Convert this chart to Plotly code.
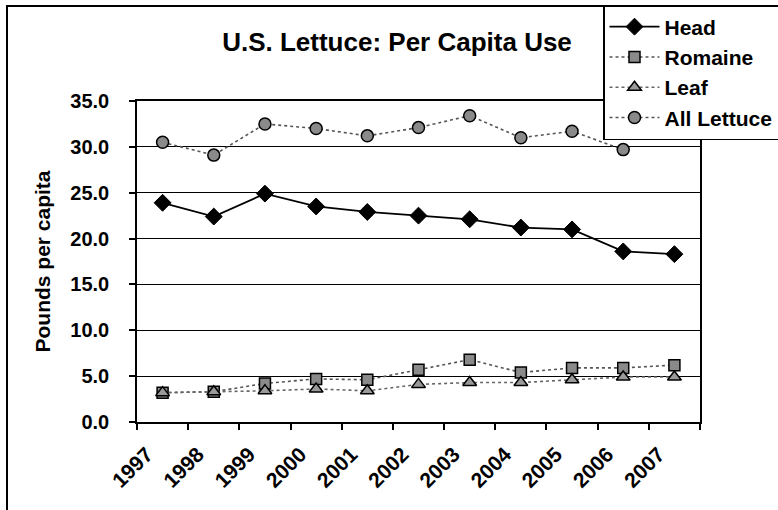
import plotly.graph_objects as go

# Per capita lettuce use, pounds
years = ["1997", "1998", "1999", "2000", "2001", "2002",
         "2003", "2004", "2005", "2006", "2007"]
head = [23.9, 22.4, 24.9, 23.5, 22.9, 22.5, 22.1, 21.2, 21.0, 18.6, 18.3]
romaine = [3.2, 3.3, 4.2, 4.7, 4.6, 5.7, 6.8, 5.4, 5.9, 5.9, 6.2]
leaf = [3.2, 3.3, 3.4, 3.6, 3.4, 4.1, 4.3, 4.3, 4.6, 4.9, 4.9]
all_lettuce = [30.5, 29.1, 32.5, 32.0, 31.2, 32.1, 33.4, 31.0, 31.7, 29.7, None]

FONT = "Arial, Liberation Sans, sans-serif"
W, H = 778, 510
L, R, T, B = 137, 78, 101, 88
PW, PH = W - L - R, H - T - B

# category centres on a numeric axis; year boundaries fall on integers
xc = [i + 0.5 for i in range(len(years))]

fig = go.Figure()

fig.add_trace(go.Scatter(
    x=xc, y=head, name="<b>Head</b>", mode="lines+markers",
    line=dict(color="black", width=1.8),
    marker=dict(symbol="diamond", size=13, color="black",
                line=dict(color="black", width=1)),
))
fig.add_trace(go.Scatter(
    x=xc, y=romaine, name="<b>Romaine</b>", mode="lines+markers",
    line=dict(color="#555555", width=1.6, dash="dot"),
    marker=dict(symbol="square", size=11, color="#8a8a8a",
                line=dict(color="black", width=1.5)),
))
fig.add_trace(go.Scatter(
    x=xc, y=leaf, name="<b>Leaf</b>", mode="lines+markers",
    line=dict(color="#666666", width=1.6, dash="dot"),
    marker=dict(symbol="triangle-up", size=12, color="#9a9a9a",
                line=dict(color="black", width=1.5)),
))
fig.add_trace(go.Scatter(
    x=xc, y=all_lettuce, name="<b>All Lettuce</b>", mode="lines+markers",
    line=dict(color="#555555", width=1.6, dash="dot"),
    marker=dict(symbol="circle", size=12, color="#8a8a8a",
                line=dict(color="black", width=1.5)),
))

def px_x(p):
    return (p - L) / PW

def px_y(p):
    return (H - B - p) / PH

fig.update_layout(
    width=W, height=H,
    margin=dict(l=L, r=R, t=T, b=B, autoexpand=False),
    paper_bgcolor="white", plot_bgcolor="white",
    font=dict(family=FONT, size=20, color="black"),
    title=dict(text="<b>U.S. Lettuce: Per Capita Use</b>",
               x=397 / W, xanchor="center", xref="container",
               y=1 - 42 / H, yanchor="middle", yref="container",
               font=dict(size=26, family=FONT, color="black")),
    showlegend=True,
    legend=dict(x=px_x(603), y=px_y(5), xanchor="left", yanchor="top",
                bgcolor="white", bordercolor="black", borderwidth=1.5,
                font=dict(size=21, family=FONT, color="black"),
                itemwidth=50, tracegroupgap=0),
    xaxis=dict(range=[0, len(years)], tickmode="array",
               tickvals=[i + 0.19 for i in range(len(years))],
               ticktext=["<b>%s</b>" % y for y in years],
               tickangle=-45, ticks="", showgrid=False, zeroline=False,
               ticklabelstandoff=10,
               showline=True, linecolor="black", linewidth=1.5, mirror=True,
               tickfont=dict(size=21),
               minor=dict(tickmode="array", tickvals=list(range(len(years) + 1)),
                          ticks="outside", ticklen=6, tickcolor="black",
                          tickwidth=1.5, showgrid=False)),
    yaxis=dict(range=[0, 35], tickmode="array",
               tickvals=[0, 5, 10, 15, 20, 25, 30, 35],
               ticktext=["<b>%.1f</b>" % v for v in [0, 5, 10, 15, 20, 25, 30, 35]],
               ticks="outside", ticklen=6, tickcolor="black", tickwidth=1.5,
               ticklabelstandoff=16,
               showgrid=True, gridcolor="black", gridwidth=1.3, zeroline=False,
               showline=True, linecolor="black", linewidth=1.5, mirror=True,
               tickfont=dict(size=20)),
    annotations=[dict(text="<b>Pounds per capita</b>", textangle=-90,
                      x=px_x(42), y=0.5, xref="paper", yref="paper",
                      xanchor="center", yanchor="middle", showarrow=False,
                      font=dict(size=21, family=FONT, color="black"))],
    shapes=[dict(type="rect", xref="paper", yref="paper",
                 x0=px_x(7), x1=px_x(800), y0=px_y(530), y1=px_y(6),
                 line=dict(color="black", width=2), fillcolor="rgba(0,0,0,0)",
                 layer="below")],
)

fig.write_html("out.html")
